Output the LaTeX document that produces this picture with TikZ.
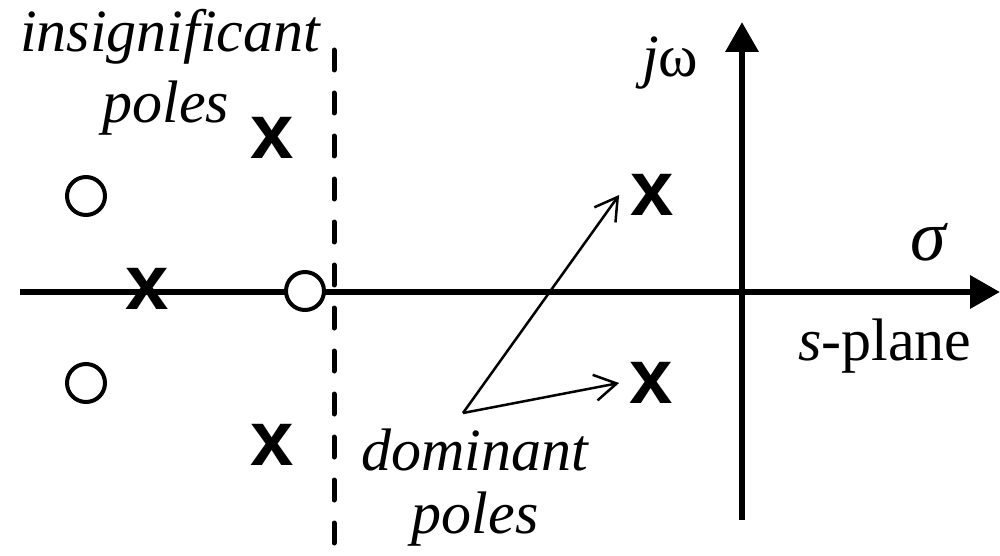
\documentclass[tikz,border=0pt]{standalone}
\usepackage{fontspec}
\setmainfont{Liberation Serif}
\newfontfamily\xfont{Liberation Sans}
\usetikzlibrary{arrows.meta}
\begin{document}
\begin{tikzpicture}[x=1pt,y=-1pt,
  pole/.style={font=\xfont\bfseries\fontsize{78}{78}\selectfont, inner sep=0pt},
  zero/.style={circle, draw, line width=4pt, fill=white, minimum size=38pt, inner sep=0pt},
  lbl/.style={font=\fontsize{60}{60}\selectfont\itshape, inner sep=0pt, anchor=base},
  axis/.style={line width=6.5pt, -{Triangle[length=30pt,width=32pt]}},
  pointer/.style={line width=2.5pt, -{Straight Barb[length=22pt,width=26pt]}},
  bound/.style={line width=5pt, line cap=round, dash pattern=on 20pt off 23pt}]
\useasboundingbox (0,0) rectangle (1000,556);
% axes
\coordinate (hl) at (20,292);
\coordinate (hr) at (1000,292);
\coordinate (vb) at (742,520);
\coordinate (vt) at (742,22);
\draw[axis] (hl) -- (hr);
\draw[axis] (vb) -- (vt);
% dashed boundary
\coordinate (dt) at (334,50);
\coordinate (db) at (334,556);
\draw[bound] (dt) -- (db);
% zeros
\node[zero] (z1) at (86,196) {};
\node[zero] (z2) at (86,383) {};
\node[zero] (z3) at (305,291) {};
% poles
\node[pole] (p1) at (272,138) {x};
\node[pole] (p2) at (147,289) {x};
\node[pole] (p3) at (272,445) {x};
\node[pole] (ux) at (652,195) {x};
\node[pole] (lx) at (651,383) {x};
% pointers
\coordinate (v) at (463,413);
\draw[pointer] (v) -- ([xshift=-11pt]ux.west);
\draw[pointer] (v) -- ([xshift=-10pt]lx.west);
% labels
\node[lbl] (ins1) at (170,52) {insignificant};
\node[lbl] (ins2) at (166,123) {poles};
\node[lbl] (dom1) at (475,470) {dominant};
\node[lbl] (dom2) at (475,533) {poles};
\node[lbl, anchor=base west, font=\fontsize{60}{60}\selectfont] (jw) at (642,77) {\textit{j}ω};
\node[lbl, anchor=base west, font=\fontsize{72}{72}\selectfont\itshape] (sig) at (910,260) {σ};
\node[lbl, anchor=base west, font=\fontsize{60}{60}\selectfont] (sp) at (798,360) {\textit{s}-plane};
\end{tikzpicture}
\end{document}
